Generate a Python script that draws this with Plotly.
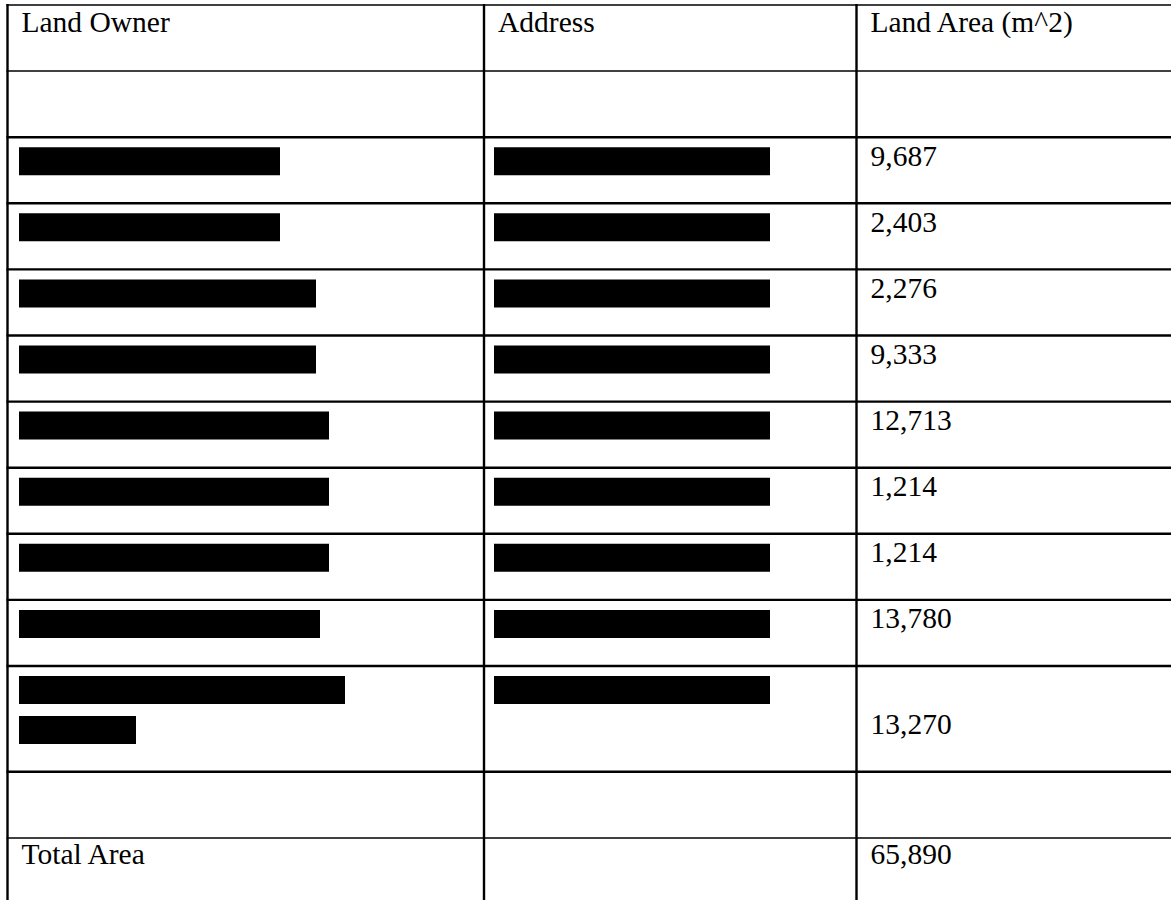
import plotly.graph_objects as go

# ---------------- data ----------------
headers = ["Land Owner", "Address", "Land Area (m^2)"]
land_area = [9687, 2403, 2276, 9333, 12713, 1214, 1214, 13780, 13270]
total_label = "Total Area"
total_area = 65890
# lengths (px) of the redacted (blacked-out) owner names and addresses
owner_redaction = [261, 261, 297, 297, 310, 310, 310, 301, 326]
owner_redaction_line2 = [None, None, None, None, None, None, None, None, 117]
address_redaction = [276, 276, 276, 276, 276, 276, 276, 276, 276]

# ---------------- layout geometry ----------------
W, H = 1171, 900
col_lines = [7.5, 484, 856.5]
text_pad = 14
row_heights = [66.1] * 10 + [105.7, 66.3, 62]
row_tops = [5.0]
for h in row_heights:
    row_tops.append(row_tops[-1] + h)
# row index: 0 header, 1 blank, 2..10 data rows, 11 blank, 12 total
data_rows = list(range(2, 2 + len(land_area)))
FONT = dict(family="Liberation Serif, Times New Roman, serif", size=29.5, color="black")
CAP = 0.35 * FONT["size"] - 2

fig = go.Figure()

# redaction bars
bar_y, bar_x, bar_base = [], [], []
for i, r in enumerate(data_rows):
    top = row_tops[r] + 10
    bar_y.append(top + 14); bar_x.append(owner_redaction[i]); bar_base.append(col_lines[0] + 11.5)
    bar_y.append(top + 14); bar_x.append(address_redaction[i]); bar_base.append(col_lines[1] + 10)
    if owner_redaction_line2[i]:
        bar_y.append(top + 40 + 14); bar_x.append(owner_redaction_line2[i]); bar_base.append(col_lines[0] + 11.5)
fig.add_trace(go.Bar(x=bar_x, y=bar_y, base=bar_base, orientation="h", width=28,
                     marker=dict(color="black", line=dict(width=0)), hoverinfo="skip"))

# text cells
tx, ty, tt = [], [], []
for c, h in enumerate(headers):
    tx.append(col_lines[c] + text_pad); ty.append(row_tops[0] + 28 - CAP); tt.append(h)
for i, r in enumerate(data_rows):
    tall = row_heights[r] > 80
    base = row_tops[r] + (69 if tall else 29.5)
    tx.append(col_lines[2] + text_pad); ty.append(base - CAP); tt.append(f"{land_area[i]:,}")
tx.append(col_lines[0] + text_pad); ty.append(row_tops[12] + 27 - CAP); tt.append(total_label)
tx.append(col_lines[2] + text_pad); ty.append(row_tops[12] + 27 - CAP); tt.append(f"{total_area:,}")
fig.add_trace(go.Scatter(x=tx, y=ty, text=tt, mode="text", textposition="middle right",
                         textfont=FONT, hoverinfo="skip"))

# grid lines
shapes = []
thin_rows = {0, 1, 12}
for k in range(len(row_tops) - 1):
    y = row_tops[k]
    shapes.append(dict(type="line", xref="x", yref="y", x0=col_lines[0] - 1, x1=W, y0=y, y1=y,
                       line=dict(color="black", width=1.5 if k in thin_rows else 2.4)))
for x in col_lines:
    shapes.append(dict(type="line", xref="x", yref="y", x0=x, x1=x, y0=row_tops[0] - 1, y1=H,
                       line=dict(color="black", width=2.4)))

fig.update_layout(
    width=W, height=H, margin=dict(l=0, r=0, t=0, b=0),
    paper_bgcolor="white", plot_bgcolor="white", showlegend=False, barmode="overlay",
    xaxis=dict(range=[0, W], visible=False, fixedrange=True),
    yaxis=dict(range=[H, 0], visible=False, fixedrange=True),
    shapes=shapes,
)
fig.write_html("out.html", config={"displayModeBar": False},
               post_script="document.body.style.margin='0';document.body.style.overflow='hidden';")
